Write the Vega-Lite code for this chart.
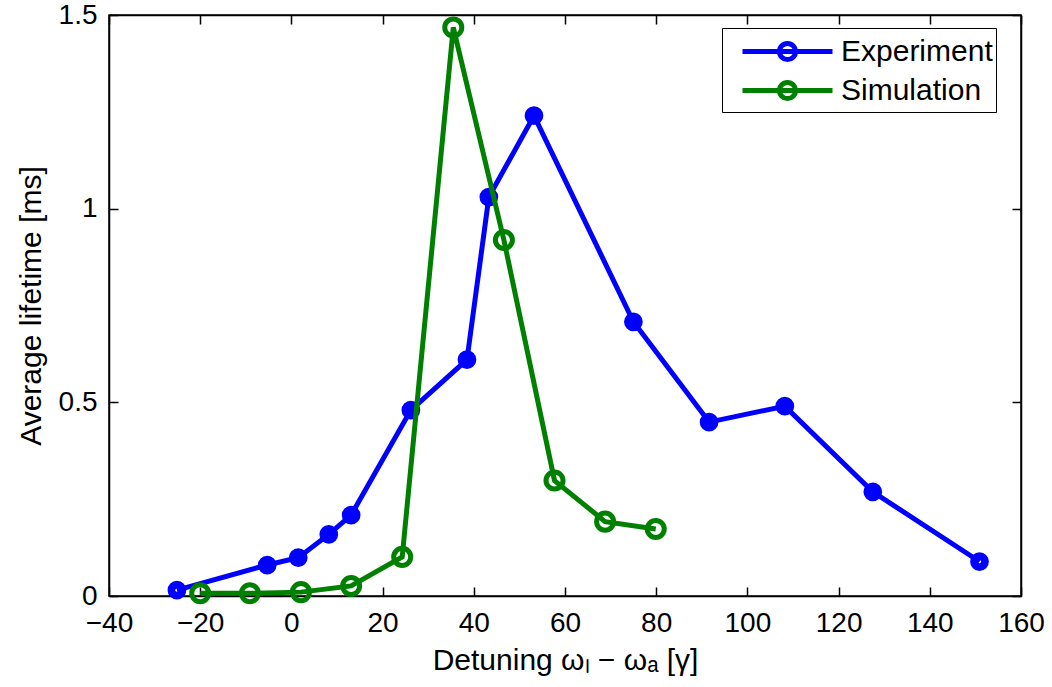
{
  "$schema": "https://vega.github.io/schema/vega-lite/v6.json",
  "width": 912,
  "height": 581,
  "autosize": "none",
  "padding": {"left": 109, "top": 15, "right": 31, "bottom": 91},
  "background": "white",
  "data": {
    "values": [
      {"series": "Experiment", "x": -25.1, "y": 0.015},
      {"series": "Experiment", "x": -5.3, "y": 0.08},
      {"series": "Experiment", "x": 1.5, "y": 0.099},
      {"series": "Experiment", "x": 8.2, "y": 0.159},
      {"series": "Experiment", "x": 13.1, "y": 0.209},
      {"series": "Experiment", "x": 26.2, "y": 0.48},
      {"series": "Experiment", "x": 38.5, "y": 0.61},
      {"series": "Experiment", "x": 43.3, "y": 1.03},
      {"series": "Experiment", "x": 53.2, "y": 1.24},
      {"series": "Experiment", "x": 75.0, "y": 0.708},
      {"series": "Experiment", "x": 91.6, "y": 0.449},
      {"series": "Experiment", "x": 108.2, "y": 0.49},
      {"series": "Experiment", "x": 127.5, "y": 0.269},
      {"series": "Experiment", "x": 150.9, "y": 0.089},
      {"series": "Simulation", "x": -20.0, "y": 0.007},
      {"series": "Simulation", "x": -9.1, "y": 0.007},
      {"series": "Simulation", "x": 2.1, "y": 0.01},
      {"series": "Simulation", "x": 13.1, "y": 0.026},
      {"series": "Simulation", "x": 24.3, "y": 0.101},
      {"series": "Simulation", "x": 35.5, "y": 1.468},
      {"series": "Simulation", "x": 46.6, "y": 0.919},
      {"series": "Simulation", "x": 57.7, "y": 0.298},
      {"series": "Simulation", "x": 68.8, "y": 0.192},
      {"series": "Simulation", "x": 79.9, "y": 0.173}
    ]
  },
  "encoding": {
    "x": {"field": "x", "type": "quantitative", "scale": {"domain": [-40, 160], "nice": false, "zero": false}},
    "y": {"field": "y", "type": "quantitative", "scale": {"domain": [0, 1.5], "nice": false}},
    "color": {
      "field": "series", "type": "nominal",
      "scale": {"domain": ["Experiment", "Simulation"], "range": ["#0000ff", "#008000"]},
      "legend": {
        "title": null,
        "orient": "none",
        "legendX": 613,
        "legendY": 13,
        "padding": 3,
        "symbolOffset": 42,
        "strokeColor": "black",
        "fillColor": "white",
        "cornerRadius": 0,
        "labelFontSize": 30,
        "labelColor": "black",
        "labelOffset": 33,
        "labelLimit": 400,
        "rowPadding": 0,
        "symbolType": "M-2.5,0H2.5M-0.45,0A0.45,0.45 0 1,0 0.45,0A0.45,0.45 0 1,0 -0.45,0Z",
        "symbolSize": 1296,
        "symbolStrokeWidth": 5,
        "symbolFillColor": {"expr": "datum.value === 'Experiment' ? '#0000ff' : 'transparent'"}
      }
    }
  },
  "layer": [
    {
      "transform": [{"filter": "datum.series === 'Experiment'"}],
      "mark": {"type": "line", "strokeWidth": 5},
      "encoding": {
        "x": {"field": "x", "type": "quantitative", "axis": {
          "orient": "bottom", "title": "Detuning ωₗ − ωₐ [γ]", "values": [-40, -20, 0, 20, 40, 60, 80, 100, 120, 140, 160],
          "grid": false, "tickSize": -9, "labelPadding": 22, "titlePadding": 8
        }},
        "y": {"field": "y", "type": "quantitative", "axis": {
          "orient": "left", "title": "Average lifetime [ms]", "values": [0, 0.5, 1, 1.5], "format": "~g",
          "grid": false, "tickSize": -9, "labelPadding": 21, "titlePadding": 12
        }}
      }
    },
    {
      "transform": [{"filter": "datum.series === 'Experiment'"}],
      "mark": {"type": "point", "shape": "circle", "filled": false, "size": 60, "strokeWidth": 11, "opacity": 1},
      "encoding": {
        "x": {"field": "x", "type": "quantitative", "axis": {
          "orient": "top", "title": null, "labels": false, "values": [-40, -20, 0, 20, 40, 60, 80, 100, 120, 140, 160],
          "grid": false, "tickSize": -9
        }},
        "y": {"field": "y", "type": "quantitative", "axis": {
          "orient": "right", "title": null, "labels": false, "values": [0, 0.5, 1, 1.5],
          "grid": false, "tickSize": -9
        }}
      }
    },
    {
      "transform": [{"filter": "datum.series === 'Simulation'"}],
      "mark": {"type": "line", "strokeWidth": 5},
      "encoding": {
        "x": {"field": "x", "type": "quantitative", "axis": null},
        "y": {"field": "y", "type": "quantitative", "axis": null}
      }
    },
    {
      "transform": [{"filter": "datum.series === 'Simulation'"}],
      "mark": {"type": "point", "shape": "circle", "filled": false, "size": 290, "strokeWidth": 5, "opacity": 1},
      "encoding": {
        "x": {"field": "x", "type": "quantitative", "axis": null},
        "y": {"field": "y", "type": "quantitative", "axis": null}
      }
    }
  ],
  "resolve": {"axis": {"x": "independent", "y": "independent"}},
  "config": {
    "font": "Liberation Sans",
    "view": {"stroke": "black", "strokeWidth": 1.5},
    "axis": {
      "domainColor": "black",
      "domainWidth": 1.5,
      "tickColor": "black",
      "tickWidth": 1.5,
      "labelColor": "black",
      "labelFontSize": 28,
      "labelFont": "Liberation Sans",
      "titleColor": "black",
      "titleFontSize": 30,
      "titleFont": "Liberation Sans",
      "titleFontWeight": "normal",
      "labelFlush": false,
      "labelOverlap": false
    },
    "legend": {"labelFont": "Liberation Sans"}
  }
}
